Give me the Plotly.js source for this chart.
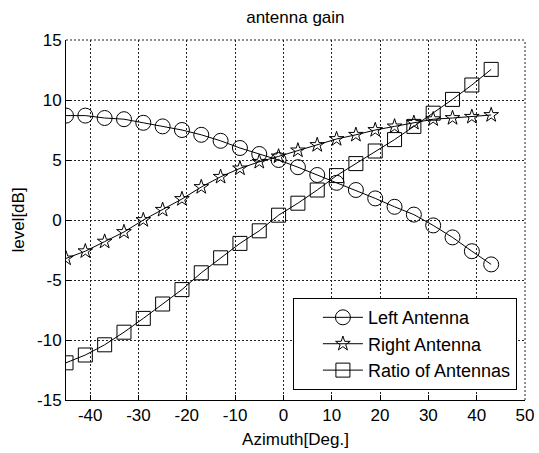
<!DOCTYPE html>
<html>
<head>
<meta charset="utf-8">
<script src="https://cdn.plot.ly/plotly-3.0.1.min.js"></script>
<style>html,body{margin:0;padding:0;background:#fff;}#chart{width:539px;height:453px;}</style>
</head>
<body>
<div id="chart"></div>
<script>
const azimuth = [-45,-41,-37,-33,-29,-25,-21,-17,-13,-9,-5,-1,3,7,11,15,19,23,27,31,35,39,43];
const leftAntenna = [8.7,8.7,8.5,8.4,8.1,7.8,7.5,7.1,6.6,6.0,5.5,5.0,4.4,3.75,3.1,2.5,1.8,1.1,0.45,-0.45,-1.45,-2.6,-3.7];
const rightAntenna = [-3.2,-2.6,-1.8,-1.0,0.0,0.85,1.75,2.75,3.6,4.3,4.85,5.3,5.8,6.25,6.75,7.1,7.5,7.8,8.1,8.4,8.5,8.6,8.75];
const ratioAntennas = [-11.9,-11.25,-10.4,-9.35,-8.2,-7.0,-5.8,-4.4,-3.15,-1.95,-0.9,0.4,1.4,2.5,3.7,4.7,5.75,6.7,7.8,8.9,10.05,11.25,12.55];
const seriesNames = ["Left Antenna","Right Antenna","Ratio of Antennas"];
const xTickVals = [-40,-30,-20,-10,0,10,20,30,40,50];
const xTickText = ["-40","-30","-20","-10","0","10","20","30","40","50"];
const yTickVals = [-15,-10,-5,0,5,10,15];
const yTickText = ["-15","-10","-5","0","5","10","15"];

const font = {family: "Liberation Sans, Arial, sans-serif", size: 17, color: "#000"};
function tr(y, name, sym, size) {
  return {x: azimuth, y: y, name: name, type: "scatter", mode: "lines+markers",
    line: {color: "#000", width: 1},
    marker: {symbol: sym, size: size, color: "#000", line: {color: "#000", width: 1}}};
}
const data = [
  tr(leftAntenna, seriesNames[0], "circle-open", 15),
  tr(rightAntenna, seriesNames[1], "star-open", 11),
  tr(ratioAntennas, seriesNames[2], "square-open", 14)
];
const axBase = {showline: true, linecolor: "#000", linewidth: 1, mirror: false,
  ticks: "inside", ticklen: 5, tickcolor: "#000", showgrid: true, gridcolor: "#222",
  griddash: "2px,2px", gridwidth: 1, zeroline: false, tickfont: font, tickmode: "array"};
const gridEdge = {type: "line", xref: "paper", yref: "paper", layer: "below",
  line: {color: "#222", width: 1, dash: "2px,2px"}};
const layout = {
  width: 539, height: 453,
  margin: {l: 66, r: 14, t: 40, b: 53},
  paper_bgcolor: "#fff", plot_bgcolor: "#fff",
  font: font,
  title: {text: "antenna gain", font: font, x: 0.548, xanchor: "center", y: 0.962, yanchor: "middle"},
  xaxis: Object.assign({}, axBase, {range: [-45, 50], tickvals: xTickVals, ticktext: xTickText,
    title: {text: "Azimuth[Deg.]", font: font, standoff: 8}}),
  yaxis: Object.assign({}, axBase, {range: [-15, 15], tickvals: yTickVals, ticktext: yTickText,
    title: {text: "level[dB]", font: font, standoff: 8}}),
  shapes: [
    Object.assign({}, gridEdge, {x0: 0, x1: 1, y0: 1, y1: 1}),
    Object.assign({}, gridEdge, {x0: 1, x1: 1, y0: 0, y1: 1})
  ],
  showlegend: true,
  legend: {x: 0.494, y: 0.283, xanchor: "left", yanchor: "top", bgcolor: "#fff",
    bordercolor: "#000", borderwidth: 1, font: {family: font.family, size: 18, color: "#000"},
    itemwidth: 40, tracegroupgap: 0,
    title: {text: "\u00a0\u00a0\u00a0", side: "left", font: {family: font.family, size: 17}}}
};
Plotly.newPlot("chart", data, layout, {displayModeBar: false, staticPlot: true});
</script>
</body>
</html>
